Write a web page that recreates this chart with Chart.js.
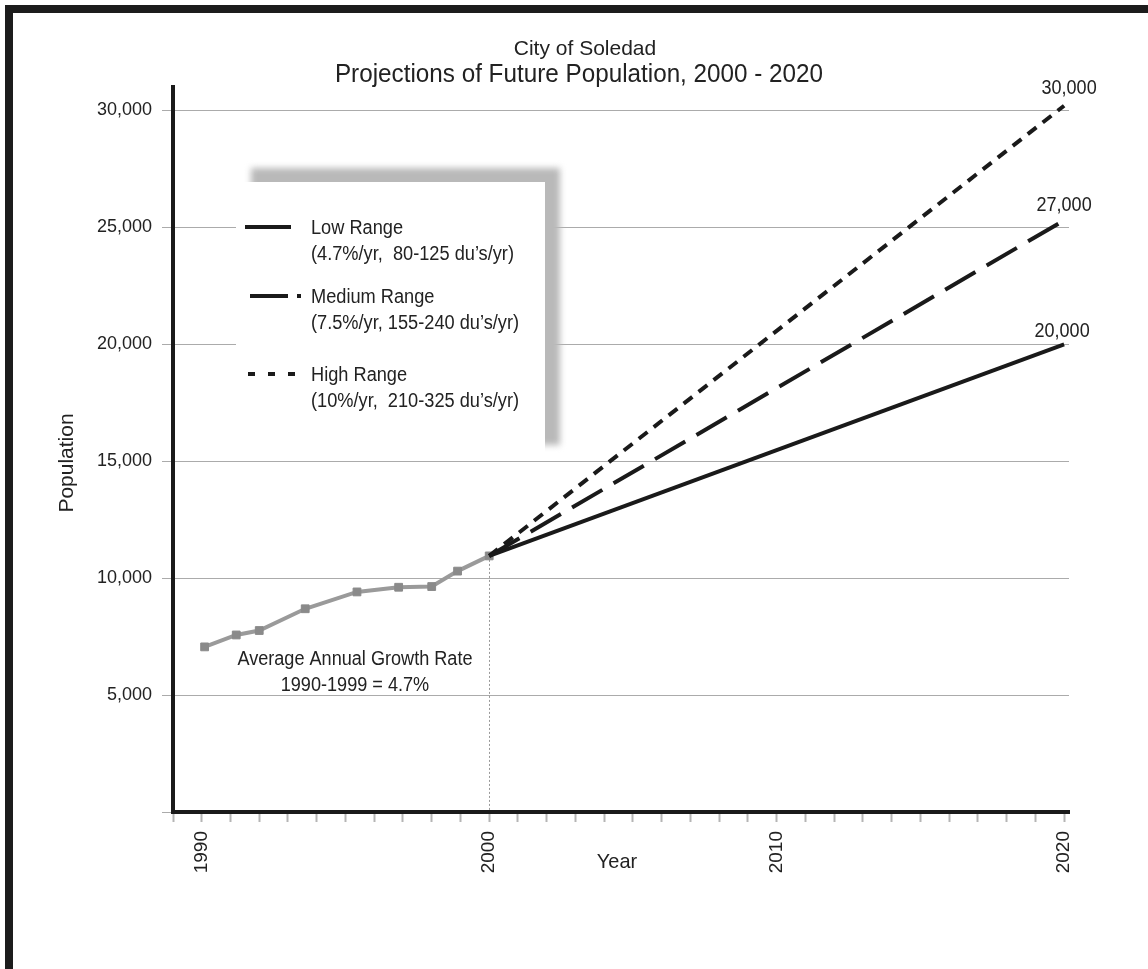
<!DOCTYPE html>
<html>
<head>
<meta charset="utf-8">
<script src="https://cdn.jsdelivr.net/npm/chart.js@4.4.1/dist/chart.umd.min.js"></script>
<style>
html,body{margin:0;padding:0;background:#fff;}
#wrap{position:relative;width:1148px;height:969px;}
</style>
</head>
<body>
<div id="wrap"><canvas id="c" width="1148" height="969"></canvas></div>
<script>
// ---- Data ----
const titleLines = ['City of Soledad', 'Projections of Future Population, 2000 - 2020'];
const xAxisTitle = 'Year';
const yAxisTitle = 'Population';

const histYears = [1990.1, 1991.2, 1992.0, 1993.6, 1995.4, 1996.85, 1998.0, 1998.9, 2000.0];
const histPop   = [7060, 7570, 7760, 8690, 9410, 9610, 9640, 10300, 10950];

const projYears = [2000, 2020];
const lowPop    = [10950, 20000];
const mediumPop = [10950, 25300];
const highPop   = [10950, 30200];
const endLabels = ['20,000', '27,000', '30,000'];

const legendNames = ['Low Range', 'Medium Range', 'High Range'];
const legendNotes = ['(4.7%/yr,  80-125 du\u2019s/yr)', '(7.5%/yr, 155-240 du\u2019s/yr)', '(10%/yr,  210-325 du\u2019s/yr)'];

const noteLines = ['Average Annual Growth Rate', '1990-1999 = 4.7%'];
const noteAt = {x: 1995.33, y: 6300};

const xLabelYears = [1990, 2000, 2010, 2020];
const yTickValues = [0, 5000, 10000, 15000, 20000, 25000, 30000];

// ---- Styles ----
const FONT = "'Liberation Sans', Arial, sans-serif";
const TXT = '#222';

function pts(xs, ys){ return xs.map((x,i)=>({x:x, y:ys[i]})); }

function txt(ctx, s, x, y, size, sx, align){
  ctx.save();
  ctx.font = size + 'px ' + FONT;
  ctx.textAlign = align || 'center';
  ctx.textBaseline = 'alphabetic';
  ctx.translate(x, y);
  ctx.scale(sx, 1);
  ctx.fillText(s, 0, 0);
  ctx.restore();
}

const decor = {
  id: 'decor',
  beforeDraw(chart){
    const ctx = chart.ctx;
    ctx.save();
    ctx.fillStyle = '#fff';
    ctx.fillRect(0,0,chart.width,chart.height);
    ctx.fillStyle = '#1c1c1c';
    ctx.fillRect(5,5,chart.width-5,8);
    ctx.fillRect(5,5,8,chart.height-5);
    ctx.restore();
  },
  beforeDatasetsDraw(chart){
    const ctx = chart.ctx, xs = chart.scales.x, ys = chart.scales.y;
    ctx.save();
    ctx.strokeStyle = '#999';
    ctx.lineWidth = 1;
    ctx.setLineDash([2,2]);
    const px = Math.round(xs.getPixelForValue(projYears[0]))+0.5;
    ctx.beginPath();
    ctx.moveTo(px, ys.getPixelForValue(lowPop[0]));
    ctx.lineTo(px, ys.getPixelForValue(0));
    ctx.stroke();
    ctx.restore();
  },
  afterDraw(chart){
    const ctx = chart.ctx, xs = chart.scales.x, ys = chart.scales.y;
    ctx.save();
    ctx.fillStyle = TXT;
    // titles
    txt(ctx, titleLines[0], 585, 55, 21, 1.0);
    txt(ctx, titleLines[1], 579, 82, 26, 0.933);
    // axis titles
    txt(ctx, xAxisTitle, 617, 868, 21, 0.95);
    ctx.save();
    ctx.translate(73, 463);
    ctx.rotate(-Math.PI/2);
    txt(ctx, yAxisTitle, 0, 0, 21, 1.0);
    ctx.restore();
    // end labels
    const ends = [lowPop, mediumPop, highPop];
    const offs = [[-2,-7],[0,-9],[5,-12]];
    ends.forEach((arr,i)=>{
      const ex = xs.getPixelForValue(projYears[1]);
      const ey = ys.getPixelForValue(arr[1]);
      txt(ctx, endLabels[i], ex+offs[i][0], ey+offs[i][1], 20, 0.9);
    });
    // note
    const nx = xs.getPixelForValue(noteAt.x), ny = ys.getPixelForValue(noteAt.y);
    txt(ctx, noteLines[0], nx, ny, 20, 0.905);
    txt(ctx, noteLines[1], nx, ny+26, 20, 0.905);

    // legend shadow + box
    ctx.save();
    ctx.filter = 'blur(3px)';
    ctx.fillStyle = '#b9b9b9';
    ctx.fillRect(251, 168, 309, 277);
    ctx.restore();
    ctx.fillStyle = '#fff';
    ctx.fillRect(236, 182, 309, 272);

    const rowsY = [227, 296, 374];
    const dashes = [[], [38,9,4,200], [7,13]];
    const x0s = [245, 250, 248];
    const x1s = [291, 302, 295];
    ctx.strokeStyle = '#1a1a1a';
    ctx.lineWidth = 4;
    rowsY.forEach((y,i)=>{
      ctx.setLineDash(dashes[i]);
      ctx.beginPath();
      ctx.moveTo(x0s[i], y);
      ctx.lineTo(x1s[i], y);
      ctx.stroke();
    });
    ctx.setLineDash([]);
    ctx.fillStyle = TXT;
    rowsY.forEach((y,i)=>{
      txt(ctx, legendNames[i], 311, y+7, 20, 0.91, 'left');
      txt(ctx, legendNotes[i], 311, y+33, 20, 0.91, 'left');
    });
    ctx.restore();
  }
};

new Chart(document.getElementById('c'), {
  type: 'scatter',
  data: {
    datasets: [
      { label: 'Historical', data: pts(histYears, histPop), showLine: true,
        borderColor: '#9a9a9a', borderWidth: 4, pointStyle: 'rect', pointRadius: 5.5,
        pointBackgroundColor: '#8a8a8a', pointBorderColor: '#8a8a8a', pointBorderWidth: 1, order: 4 },
      { label: 'Low Range', data: pts(projYears, lowPop), showLine: true,
        borderColor: '#1a1a1a', borderWidth: 4, pointRadius: 0, order: 1 },
      { label: 'Medium Range', data: pts(projYears, mediumPop), showLine: true,
        borderColor: '#1a1a1a', borderWidth: 4, borderDash: [35,13], pointRadius: 0, order: 2 },
      { label: 'High Range', data: pts(projYears, highPop), showLine: true,
        borderColor: '#1a1a1a', borderWidth: 4, borderDash: [11,8], pointRadius: 0, order: 3 }
    ]
  },
  options: {
    responsive: false,
    animation: false,
    devicePixelRatio: 1,
    layout: { padding: { left: 0, right: 79, top: 87, bottom: 0 } },
    plugins: { legend: { display: false }, tooltip: { enabled: false }, title: { display: false } },
    scales: {
      x: {
        type: 'linear', min: 1989, max: 2020.17,
        afterBuildTicks(s){ s.ticks = s.ticks.filter(t => Math.abs(t.value - Math.round(t.value)) < 1e-6); },
        afterFit(s){ s.height = 157; },
        ticks: {
          stepSize: 1, includeBounds: false, autoSkip: false, minRotation: 90, maxRotation: 90, padding: 9,
          color: TXT, font: { family: FONT, size: 19 },
          callback: v => xLabelYears.includes(Math.round(v)) ? String(Math.round(v)) : ''
        },
        grid: { drawOnChartArea: false, drawTicks: true, tickLength: 10, tickColor: '#b5b5b5', tickWidth: 2 },
        border: { color: '#1a1a1a', width: 4 }
      },
      y: {
        type: 'linear', min: 0, max: 31000,
        afterBuildTicks(s){ s.ticks = yTickValues.map(v => ({value: v})); },
        afterFit(s){ s.width = 173; },
        ticks: {
          includeBounds: false,
          color: TXT, font: { family: FONT, size: 18 }, padding: 10,
          callback: v => v === 0 ? '' : v.toLocaleString('en-US')
        },
        grid: { color: '#ababab', lineWidth: 1, tickLength: 11, tickColor: '#ababab' },
        border: { color: '#1a1a1a', width: 4 }
      }
    }
  },
  plugins: [decor]
});
</script>
</body>
</html>
